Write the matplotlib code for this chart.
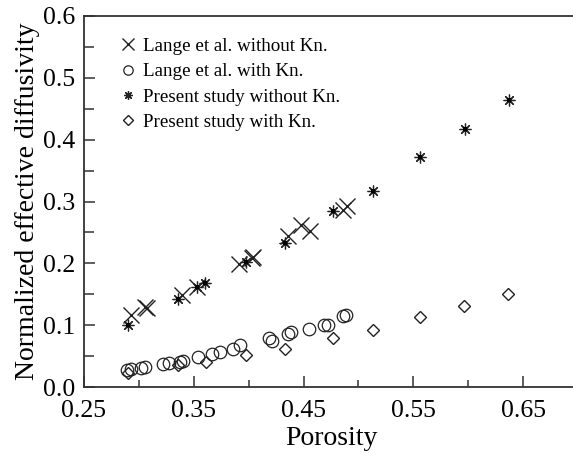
import matplotlib
matplotlib.use("Agg")
import matplotlib.pyplot as plt
from matplotlib.ticker import MultipleLocator, FormatStrFormatter

plt.rcParams['font.family'] = ['Liberation Serif', 'DejaVu Serif']
plt.rcParams['mathtext.fontset'] = 'stix'

# Lange et al. without Kn (crosses)
lange_nokn_x = [0.293, 0.306, 0.307, 0.339, 0.353, 0.391, 0.403, 0.404, 0.436, 0.448, 0.456, 0.486, 0.490]
lange_nokn_y = [0.116, 0.130, 0.128, 0.148, 0.162, 0.199, 0.209, 0.211, 0.244, 0.262, 0.253, 0.286, 0.292]

# Lange et al. with Kn (circles)
lange_kn_x = [0.2895, 0.2925, 0.3016, 0.306, 0.322, 0.327, 0.3374, 0.3404, 0.354, 0.3668, 0.3738,
              0.386, 0.392, 0.4188, 0.421, 0.4355, 0.4385, 0.455, 0.4689, 0.4725, 0.4855, 0.489]
lange_kn_y = [0.027, 0.029, 0.031, 0.033, 0.038, 0.039, 0.041, 0.0425, 0.049, 0.054, 0.056,
              0.062, 0.068, 0.0785, 0.0747, 0.0865, 0.0892, 0.0946, 0.101, 0.100, 0.1145, 0.117]

# Present study without Kn (asterisks)
present_nokn_x = [0.290, 0.336, 0.353, 0.360, 0.398, 0.433, 0.477, 0.513, 0.556, 0.597, 0.637]
present_nokn_y = [0.100, 0.143, 0.162, 0.168, 0.202, 0.233, 0.284, 0.317, 0.372, 0.417, 0.464]

# Present study with Kn (diamonds)
present_kn_x = [0.290, 0.336, 0.361, 0.398, 0.433, 0.477, 0.513, 0.556, 0.596, 0.636]
present_kn_y = [0.023, 0.0355, 0.041, 0.0516, 0.0613, 0.0796, 0.092, 0.1124, 0.1306, 0.151]

labels = ["Lange et al. without Kn.", "Lange et al. with Kn.",
          "Present study without Kn.", "Present study with Kn."]

fig = plt.figure(figsize=(5.73, 4.53), dpi=100)
ax = fig.add_axes([84/573, 66/453, (578-84)/573, (387-16)/453])

c = '#222222'
ax.plot(lange_nokn_x, lange_nokn_y, linestyle='none', marker='x', ms=11, mew=1.0,
        color=c, label=labels[0])
ax.plot(lange_kn_x, lange_kn_y, linestyle='none', marker='o', ms=9, mew=0.9,
        mfc='none', mec=c, label=labels[1])
ax.plot(present_nokn_x, present_nokn_y, linestyle='none', marker=(8, 2, 0), ms=8.5, mew=0.9,
        color=c, label=labels[2])
ax.plot(present_nokn_x, present_nokn_y, linestyle='none', marker='s', ms=2.5, mew=0,
        color='black')
ax.plot(present_kn_x, present_kn_y, linestyle='none', marker='D', ms=6.5, mew=1.0,
        mfc='none', mec=c, label=labels[3])

ax.set_xlim(0.25, 0.70)
ax.set_ylim(0.0, 0.6)
ax.set_xticks([0.25, 0.35, 0.45, 0.55, 0.65])
ax.xaxis.set_minor_locator(MultipleLocator(0.05))
ax.yaxis.set_major_locator(MultipleLocator(0.1))
ax.yaxis.set_minor_locator(MultipleLocator(0.05))
ax.xaxis.set_major_formatter(FormatStrFormatter('%.2f'))
ax.yaxis.set_major_formatter(FormatStrFormatter('%.1f'))

ax.tick_params(axis='both', which='major', direction='in', length=8, width=1.1,
               labelsize=18.5, color='#333333')
ax.tick_params(axis='x', which='major', pad=9.5)
ax.tick_params(axis='y', which='major', pad=6.5)
ax.tick_params(axis='both', which='minor', direction='in', length=5, width=1.1,
               color='#333333')
ax.tick_params(axis='y', which='minor', length=7)
ax.tick_params(top=False, right=False, which='both')

for s in ['left', 'bottom', 'top']:
    ax.spines[s].set_linewidth(1.3)
    ax.spines[s].set_color('#333333')
ax.spines['right'].set_visible(False)

ax.set_xlabel('Porosity', fontsize=20, labelpad=3)
ax.set_ylabel('Normalized effective diffusivity', fontsize=20, labelpad=2)

leg = ax.legend(loc='upper left', bbox_to_anchor=(0.06, 0.962), frameon=False,
                fontsize=13.7, handlelength=0.7, handletextpad=0.45, labelspacing=0.42,
                markerscale=0.75, borderaxespad=0)

fig.savefig('out.png', dpi=100)
